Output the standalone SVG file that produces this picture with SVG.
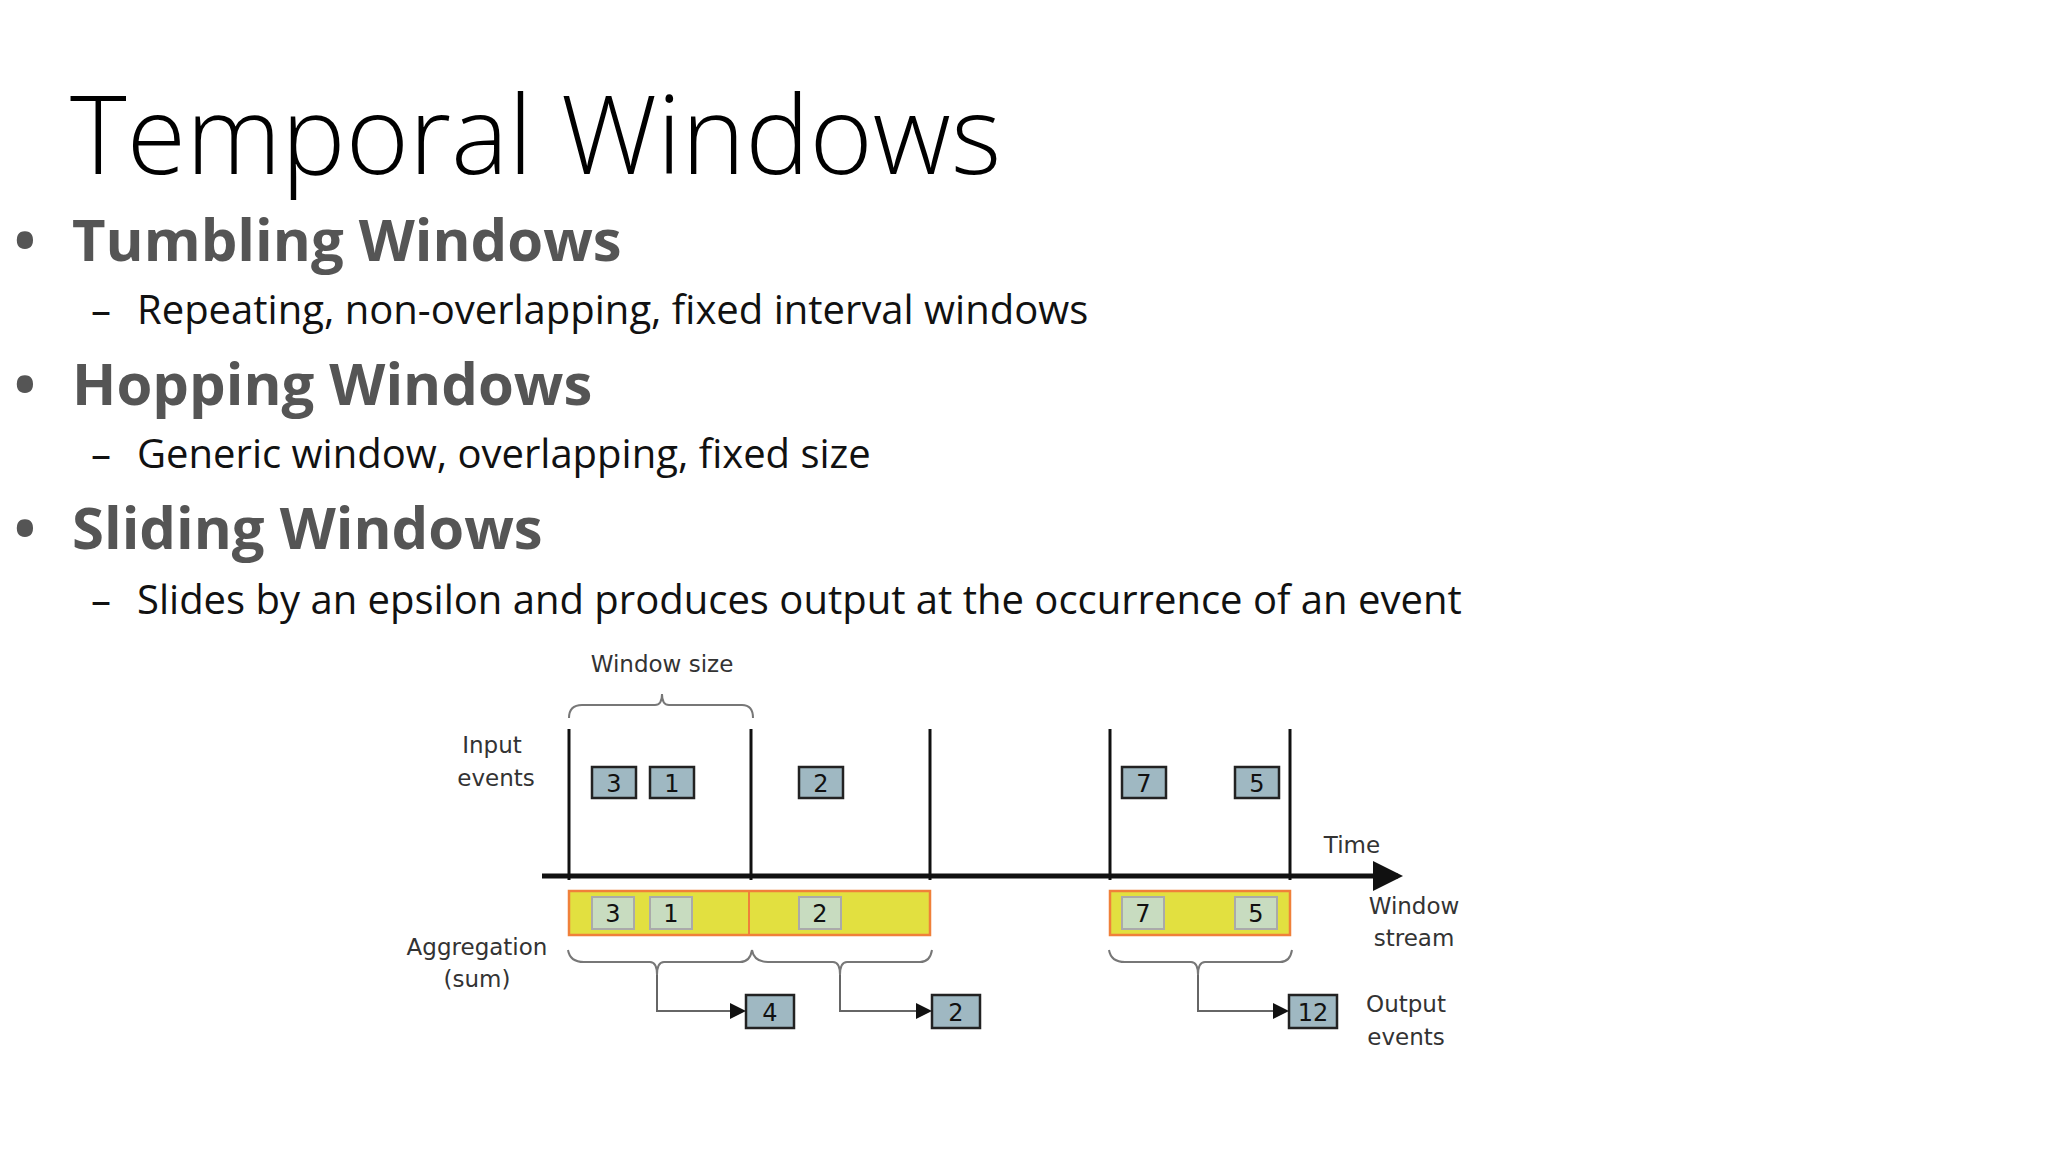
<svg xmlns="http://www.w3.org/2000/svg" width="2048" height="1152" viewBox="0 0 2048 1152">
<style>
.t{font-family:"Open Sans","Liberation Sans",sans-serif;fill:#000}
.b{font-family:"Open Sans","Liberation Sans",sans-serif;font-weight:bold;fill:#555}
.s{font-family:"Open Sans","Liberation Sans",sans-serif;fill:#111;font-size:40px}
.d{font-family:"DejaVu Sans",sans-serif;font-size:23px;fill:#333;text-anchor:middle}
.in rect{fill:#9fb8c2;stroke:#222;stroke-width:2.5}
.in text,.ws text{font-family:"DejaVu Sans",sans-serif;font-size:24px;fill:#111;text-anchor:middle}
.ws rect{fill:#c8dcc0;stroke:#aaa;stroke-width:2}
.br{fill:none;stroke:#777;stroke-width:2}
.vl{stroke:#111;stroke-width:3}
.cn{fill:none;stroke:#666;stroke-width:2}
</style>
<defs><marker id="ar" markerWidth="8" markerHeight="8" refX="7" refY="4" orient="auto"><path d="M0,0L8,4L0,8z" fill="#111"/></marker>
<marker id="ax" markerWidth="6" markerHeight="6" refX="5" refY="3" orient="auto"><path d="M0,0L6,3L0,6z" fill="#111"/></marker></defs>
<rect width="2048" height="1152" fill="#fff"/>
<text class="t" x="70" y="174" font-size="108" font-weight="300">Temporal Windows</text>
<g class="b" font-size="58">
<text x="14" y="261">•</text><text x="72" y="261">Tumbling Windows</text>
<text x="14" y="405">•</text><text x="72" y="405">Hopping Windows</text>
<text x="14" y="549">•</text><text x="72" y="549">Sliding Windows</text>
</g>
<g class="s">
<text x="91" y="324">–</text><text x="137" y="324">Repeating, non-overlapping, fixed interval windows</text>
<text x="91" y="468">–</text><text x="137" y="468">Generic window, overlapping, fixed size</text>
<text x="91" y="614">–</text><text x="137" y="614">Slides by an epsilon and produces output at the occurrence of an event</text>
</g>
<g id="labels" class="d">
<text x="662" y="672">Window size</text>
<text x="492" y="753">Input</text><text x="496" y="786">events</text>
<text x="1352" y="853">Time</text>
<text x="1414" y="914">Window</text><text x="1414" y="946">stream</text>
<text x="477" y="955">Aggregation</text><text x="477" y="987">(sum)</text>
<text x="1406" y="1012">Output</text><text x="1406" y="1045">events</text>
</g>
<g id="timeline">
<line x1="542" y1="876" x2="1398" y2="876" stroke="#111" stroke-width="5" marker-end="url(#ax)"/>
<line class="vl" x1="569" y1="729" x2="569" y2="880"/><line class="vl" x1="751" y1="729" x2="751" y2="880"/>
<line class="vl" x1="930" y1="729" x2="930" y2="880"/><line class="vl" x1="1110" y1="729" x2="1110" y2="880"/>
<line class="vl" x1="1290" y1="729" x2="1290" y2="880"/>
</g>
<g id="bars">
<rect x="569" y="891" width="361" height="44" fill="#e2e040" stroke="#f0803a" stroke-width="2.5"/>
<line x1="749" y1="891" x2="749" y2="935" stroke="#f0803a" stroke-width="2"/>
<rect x="1110" y="891" width="180" height="44" fill="#e2e040" stroke="#f0803a" stroke-width="2.5"/>
</g>
<g id="inputs" class="in">
<g id="i3"><rect x="592" y="767" width="44" height="31"/><text x="614" y="792">3</text></g>
<g id="i1"><rect x="650" y="767" width="44" height="31"/><text x="672" y="792">1</text></g>
<g id="i2"><rect x="799" y="767" width="44" height="31"/><text x="821" y="792">2</text></g>
<g id="i7"><rect x="1122" y="767" width="44" height="31"/><text x="1144" y="792">7</text></g>
<g id="i5"><rect x="1235" y="767" width="44" height="31"/><text x="1257" y="792">5</text></g>
</g>
<g id="window" class="ws">
<g id="w3"><rect x="592" y="897" width="42" height="32"/><text x="613" y="922">3</text></g>
<g id="w1"><rect x="650" y="897" width="42" height="32"/><text x="671" y="922">1</text></g>
<g id="w2"><rect x="799" y="897" width="42" height="32"/><text x="820" y="922">2</text></g>
<g id="w7"><rect x="1122" y="897" width="42" height="32"/><text x="1143" y="922">7</text></g>
<g id="w5"><rect x="1235" y="897" width="42" height="32"/><text x="1256" y="922">5</text></g>
</g>
<g id="outputs" class="in">
<g id="o4"><rect x="746" y="995" width="48" height="33"/><text x="770" y="1021">4</text></g>
<g id="o2"><rect x="932" y="995" width="48" height="33"/><text x="956" y="1021">2</text></g>
<g id="o12"><rect x="1289" y="995" width="48" height="33"/><text x="1313" y="1021">12</text></g>
</g>
<g id="connectors">
<path class="br" d="M569,718 Q569,705 582,705 L655,705 Q662,705 662,694 Q662,705 669,705 L742,705 Q753,705 753,718"/>
<path class="br" d="M568,950 Q570,962 584,962 L650,962 Q657,962 657,975 Q657,962 664,962 L740,962 Q750,962 752,950"/>
<path class="br" d="M752,950 Q754,962 768,962 L833,962 Q840,962 840,975 Q840,962 847,962 L920,962 Q930,962 932,950"/>
<path class="br" d="M1109,950 Q1111,962 1125,962 L1191,962 Q1198,962 1198,975 Q1198,962 1205,962 L1280,962 Q1290,962 1292,950"/>
<path class="cn" d="M657,975 V1011 H744" marker-end="url(#ar)"/>
<path class="cn" d="M840,975 V1011 H930" marker-end="url(#ar)"/>
<path class="cn" d="M1198,975 V1011 H1287" marker-end="url(#ar)"/>
</g>
</svg>
